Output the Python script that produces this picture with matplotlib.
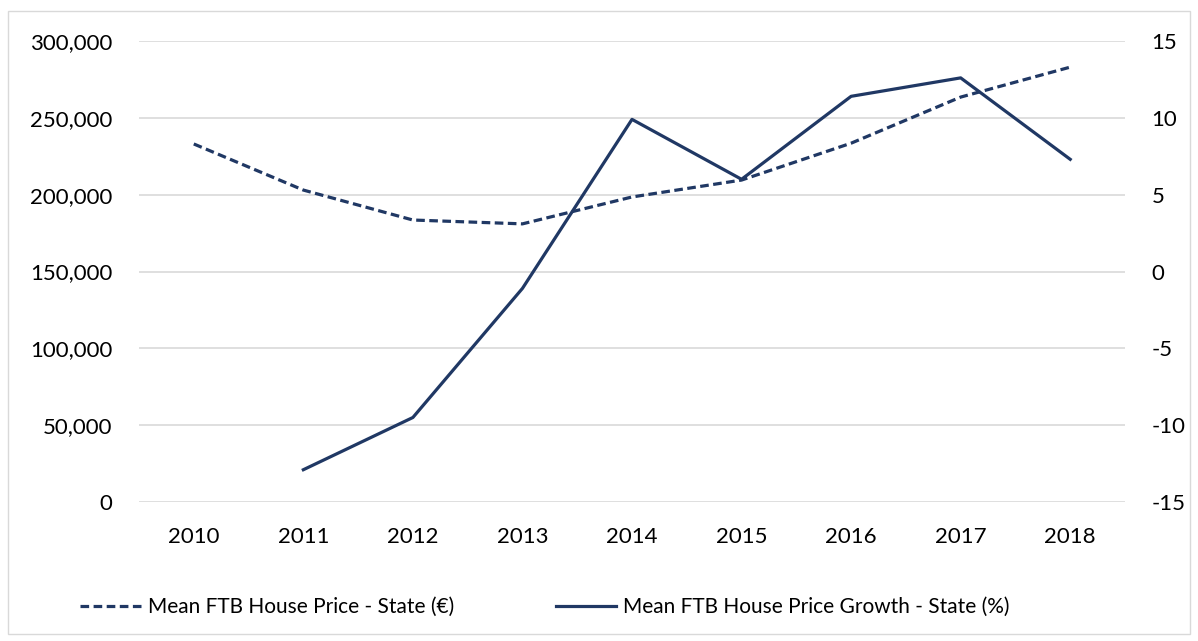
import matplotlib
matplotlib.use("Agg")
import matplotlib.pyplot as plt
from matplotlib.patches import Rectangle
from matplotlib.lines import Line2D
from matplotlib.ticker import FuncFormatter

years = ["2010", "2011", "2012", "2013", "2014", "2015", "2016", "2017", "2018"]
price = [233000, 203000, 183500, 181000, 198500, 209500, 233500, 263500, 283000]
growth_years = ["2011", "2012", "2013", "2014", "2015", "2016", "2017", "2018"]
growth = [-12.9, -9.5, -1.1, 9.9, 6.0, 11.4, 12.6, 7.3]
left_ticks = [0, 50000, 100000, 150000, 200000, 250000, 300000]
right_ticks = [-15, -10, -5, 0, 5, 10, 15]
price_label = "Mean FTB House Price - State (€)"
growth_label = "Mean FTB House Price Growth - State (%)"

plt.rcParams['font.family'] = ['Lato', 'DejaVu Sans']
color = "#203864"
grid_c = "#d9d9d9"
fs = 16
dash = (0, (2.7, 1.4))

W, H = 1198, 641
fig = plt.figure(figsize=(W / 100, H / 100), dpi=100)
fig.patches.append(Rectangle((8 / W, 1 - 634 / H), 1182 / W, 623 / H, transform=fig.transFigure,
                             fill=False, edgecolor=grid_c, linewidth=1.0))

x0, x1, y0, y1 = 139, 1125, 41, 502
ax = fig.add_axes([x0 / W, 1 - y1 / H, (x1 - x0) / W, (y1 - y0) / H])
ax2 = ax.twinx()

xi = list(range(len(years)))
gi = [years.index(y) for y in growth_years]

ax.plot(xi, price, color=color, linewidth=2.3, linestyle=dash, zorder=3)
ax2.plot(gi, growth, color=color, linewidth=2.3, zorder=3)

ax.set_xlim(-0.5, len(years) - 0.5)
ax.set_ylim(0, 300000)
ax2.set_ylim(-15, 15)
ax.set_xticks(xi)
ax.set_xticklabels(years)
ax.set_yticks(left_ticks)
ax.yaxis.set_major_formatter(FuncFormatter(lambda v, p: f"{int(v):,}"))
ax2.set_yticks(right_ticks)
ax2.yaxis.set_major_formatter(FuncFormatter(lambda v, p: f"{int(v)}"))

for a in (ax, ax2):
    for s in a.spines.values():
        s.set_visible(False)
    a.tick_params(length=0, labelsize=fs, colors="black")
ax.tick_params(axis='y', pad=19)
ax2.tick_params(axis='y', which='both', pad=19, labelright=True)
ax.tick_params(axis='x', pad=18)
ax.grid(axis='y', color=grid_c, linewidth=1.2)
ax.set_axisbelow(True)

handles = [Line2D([], [], color=color, linewidth=2.3, linestyle=dash),
           Line2D([], [], color=color, linewidth=2.3)]
fig.legend(handles, [price_label, growth_label], loc='center', bbox_to_anchor=(0.455, 1 - 607 / H),
           ncol=2, frameon=False, fontsize=15, handlelength=2.9, handletextpad=0.33, columnspacing=4.9)

fig.savefig("out.png", dpi=100)
